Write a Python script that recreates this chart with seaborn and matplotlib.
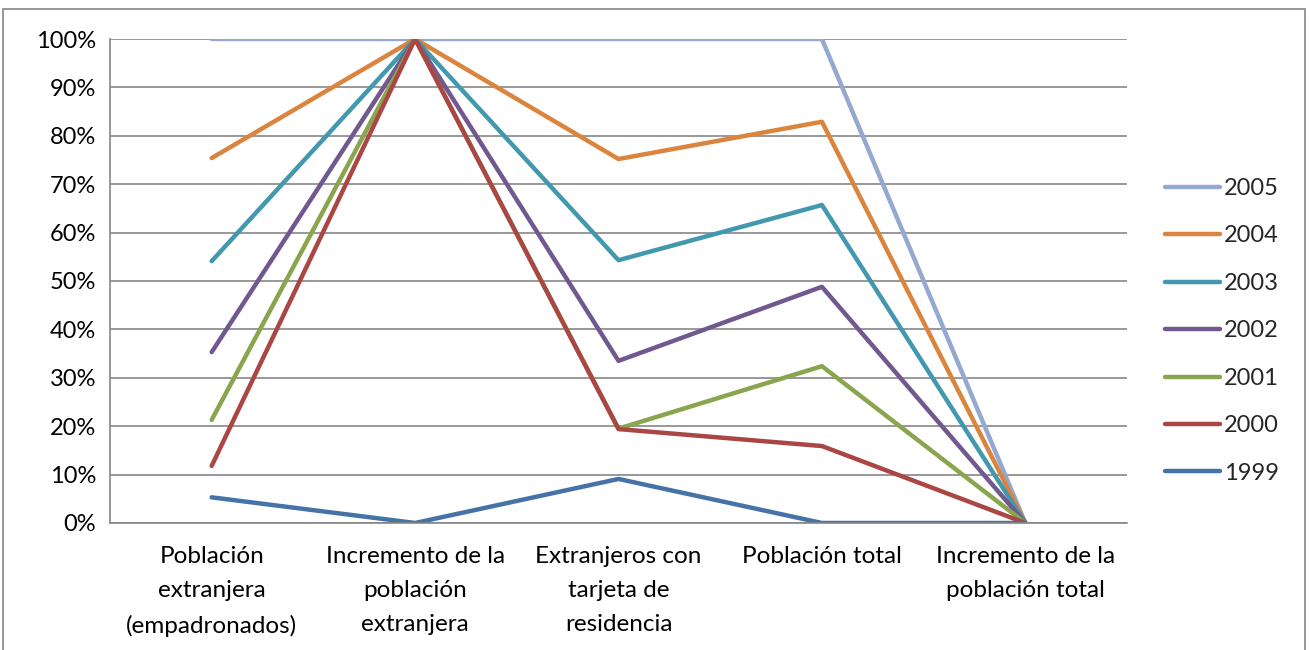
import pandas as pd
import matplotlib
matplotlib.use('Agg')
import matplotlib.pyplot as plt
import seaborn as sns
from matplotlib.patches import Rectangle
from matplotlib.ticker import PercentFormatter, FixedLocator

# Datos
categorias = [
    'Población\nextranjera\n(empadronados)',
    'Incremento de la\npoblación\nextranjera',
    'Extranjeros con\ntarjeta de\nresidencia',
    'Población total',
    'Incremento de la\npoblación total',
]
anios = ['2005', '2004', '2003', '2002', '2001', '2000', '1999']
v2005 = [100, 100, 100, 100, 0]
v2004 = [75.4, 100, 75.2, 82.9, 0]
v2003 = [54.1, 100, 54.3, 65.7, 0]
v2002 = [35.3, 100, 33.5, 48.8, 0]
v2001 = [21.3, 100, 19.5, 32.4, 0]
v2000 = [11.8, 100, 19.4, 15.9, 0]
v1999 = [5.3, 0, 9.1, 0, 0]
colores = ['#93A9CF', '#DB843D', '#4198AF', '#71588F', '#89A54E', '#AA4643', '#4573A7']

valores = [v2005, v2004, v2003, v2002, v2001, v2000, v1999]
filas = []
for anio, serie in zip(anios, valores):
    for i, v in enumerate(serie):
        filas.append({'pos': i, 'valor': v, 'anio': anio})
df = pd.DataFrame(filas)

sns.set_style('white')
plt.rcParams['font.family'] = ['Lato', 'DejaVu Sans']

fig = plt.figure(figsize=(13.09, 6.5), dpi=100)
ax = fig.add_axes([0.084, 0.1954, 0.777, 0.7446])

sns.lineplot(data=df, x='pos', y='valor', hue='anio', hue_order=anios,
             palette=colores, linewidth=3.2, ax=ax, legend=True,
             solid_capstyle='round', solid_joinstyle='round')

ax.set_xlim(-0.5, 4.5)
ax.set_ylim(0, 100)
ax.set_yticks(range(0, 101, 10))
ax.yaxis.set_major_formatter(PercentFormatter(decimals=0))
ax.set_xticks(range(5))
ax.set_xticklabels(categorias, fontsize=17.5, linespacing=1.76)
ax.xaxis.set_minor_locator(FixedLocator([-0.5, 0.5, 1.5, 2.5, 3.5, 4.5]))
ax.tick_params(axis='x', which='major', length=0, pad=16.5)
ax.tick_params(axis='x', which='minor', length=7, color='#868686', width=1.2, direction='out')
ax.tick_params(axis='y', length=6, color='#868686', width=1.2, direction='out', labelsize=17, pad=4)
for lbl in ax.get_xticklabels() + ax.get_yticklabels():
    lbl.set_color('black')
ax.set_xlabel('')
ax.set_ylabel('')

ax.grid(axis='y', color='#868686', linewidth=1.2)
ax.set_axisbelow(True)
for lado in ['top', 'right']:
    ax.spines[lado].set_visible(False)
for lado in ['left', 'bottom']:
    ax.spines[lado].set_color('#868686')
    ax.spines[lado].set_linewidth(1.2)

ax.legend(loc='center left', bbox_to_anchor=(1.0374, 0.397), frameon=False,
          fontsize=17, handlelength=2.33, handletextpad=0.17, labelspacing=1.12,
          borderaxespad=0, borderpad=0)
for h in ax.get_legend().get_lines():
    h.set_solid_capstyle('round')
    h.set_linewidth(3.2)

# Marco exterior
fig.patches.append(Rectangle((3 / 1309, -0.05), 1302 / 1309, 1.05 - 9 / 650,
                             transform=fig.transFigure, fill=False,
                             edgecolor='#868686', linewidth=1.2))

fig.savefig('out.png', dpi=100)
